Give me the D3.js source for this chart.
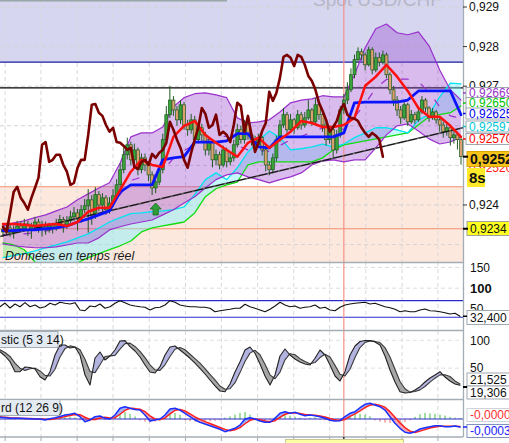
<!DOCTYPE html>
<html><head><meta charset="utf-8">
<script src="https://cdn.jsdelivr.net/npm/d3@7"></script>
<style>
html,body{margin:0;padding:0;background:#fff;overflow:hidden;}
svg{display:block;font-family:"Liberation Sans",Arial,sans-serif;}
</style></head><body>
<svg id="c" width="509" height="443"></svg>
<script>
// ================= DATA =================
// Prices are in pips above 0.9200  (price = 0.92 + v/10000)
const firstOpen = 33.8;
const closes = [33.2,34.2,33.0,33.7,34.7,34.0,35.2,33.5,34.5,35.7,34.2,35.0,33.7,34.7,
34.0,35.2,36.3,34.7,36.0,37.0,38.0,36.5,38.8,39.8,41.3,37.5,42.6,40.0,41.8,38.8,40.5,42.3,
45.1,48.9,52.7,55.2,51.4,53.9,48.9,51.9,50.1,47.6,44.3,45.8,48.9,56.5,62.8,66.5,
64.0,61.5,65.3,60.2,59.0,61.5,56.5,59.5,57.7,53.9,55.9,51.4,52.7,50.1,53.9,50.9,51.9,
55.2,59.0,56.5,60.2,57.7,56.5,55.2,57.0,53.9,50.1,48.9,51.9,56.5,60.2,62.8,59.0,
61.5,59.5,62.8,60.2,62.0,64.0,61.0,65.3,62.8,60.2,56.5,59.0,53.9,57.7,64.0,66.5,69.1,
72.9,76.7,78.7,77.9,75.4,79.2,74.1,77.2,76.1,77.9,72.9,69.1,66.5,64.0,62.0,65.3,61.0,
62.8,61.5,63.5,66.5,64.5,62.0,63.5,61.5,60.2,58.5,59.5,57.0,57.7,56.5,52.2];
const highs = [35.0,35.5,35.0,34.8,36.0,35.8,36.5,36.0,35.5,37.0,36.5,36.0,35.8,35.5,35.5,36.5,37.5,37.0,37.2,38.5,
39.5,39.0,40.0,41.5,44.0,42.5,44.5,43.5,43.0,42.5,42.0,44.0,46.5,50.5,54.5,57.0,56.0,55.5,54.5,53.0,
53.0,51.0,48.5,47.5,50.0,58.0,65.0,70.0,67.5,65.0,66.5,66.0,61.5,63.0,62.5,61.0,60.5,58.5,57.0,56.5,
54.0,53.5,55.0,54.5,53.5,56.5,60.5,60.0,61.5,61.0,58.5,57.5,58.0,57.5,54.5,51.0,53.0,57.5,61.5,64.5,
63.5,63.0,62.0,64.0,63.5,63.5,66.5,64.5,67.0,66.0,63.5,61.0,60.0,59.5,59.0,65.0,68.0,71.0,74.5,78.0,
79.8,79.5,78.5,80.0,79.8,78.5,78.5,79.0,78.5,73.5,70.0,67.5,65.0,66.0,65.8,64.0,63.5,64.5,67.5,67.0,
65.0,64.5,64.0,62.0,61.0,60.5,60.0,58.8,58.5,57.0];
const lows = [32.0,32.5,32.0,31.5,33.0,33.2,33.5,32.2,31.5,34.0,33.0,32.0,32.5,33.0,32.8,33.5,34.5,33.0,34.0,35.5,
36.0,33.5,35.5,38.0,33.0,35.0,36.5,38.5,38.0,37.5,37.8,39.5,41.5,44.0,48.0,51.5,50.0,50.5,47.5,48.0,
48.5,46.0,42.5,43.0,45.0,48.0,55.5,62.0,62.5,60.0,60.5,59.0,57.5,58.0,55.0,55.5,56.0,52.5,52.5,49.5,
50.0,49.0,49.5,49.5,50.0,51.0,54.5,55.5,55.5,56.5,55.0,54.0,54.5,52.5,48.5,47.5,48.0,51.0,56.0,59.5,
58.0,58.5,58.0,59.0,59.0,59.5,61.5,60.0,60.5,61.5,58.5,55.0,55.5,52.0,53.0,57.0,63.0,65.5,68.5,72.0,
76.0,76.5,74.0,75.0,73.0,73.5,75.0,75.5,72.0,68.0,65.0,62.5,60.5,61.5,60.0,60.5,60.5,61.0,63.0,63.5,
61.0,61.5,60.5,58.5,57.0,57.5,55.0,55.5,54.0,50.2];

// Indicator lines, one value every 3 bars
const lineStep = 3;
const tenkan = [35.2,35.2,35.0,34.7,35.0,35.2,34.7,35.7,38.3,39.3,39.3,43.8,48.4,51.4,50.1,49.6,57.2,60.0,61.2,57.7,
55.7,53.9,52.2,55.7,57.0,54.4,56.5,58.5,61.2,60.7,59.7,59.7,60.2,62.0,70.1,72.4,75.4,72.4,68.8,64.5,62.3,62.3,60.0,57.2];
const kijun = [33.5,33.5,33.7,33.7,34.0,34.2,34.7,35.7,36.5,37.5,38.5,43.3,45.1,45.1,45.1,51.4,51.9,52.2,55.9,55.9,
55.9,56.2,58.0,58.0,54.7,54.4,57.2,57.2,57.2,57.2,57.2,57.2,58.2,65.8,66.0,66.0,66.0,66.0,66.5,68.8,68.8,68.8,68.8,62.8];
const spanA = [26.7,27.2,27.7,28.4,29.2,29.9,30.7,31.7,32.7,34.2,35.7,36.8,37.8,38.0,38.3,38.5,38.8,39.5,42.6,46.4,
48.1,46.4,49.4,53.4,56.2,58.7,57.0,53.9,54.2,54.7,55.4,54.7,55.4,57.0,58.2,59.5,59.5,59.0,58.2,61.5,62.8,67.3,70.8,70.6];
const spanB = [30.4,29.9,28.7,25.6,24.6,24.6,24.9,25.4,26.7,27.7,28.7,29.7,30.9,33.2,34.2,34.7,35.2,35.7,38.0,42.1,
44.1,45.1,45.8,50.1,50.9,50.9,50.9,50.9,50.9,50.9,51.9,53.9,55.2,55.7,56.2,56.7,57.2,57.7,58.2,60.2,62.3,62.8,63.3,65.0];
const bbUpper = [34.7,35.5,36.0,36.8,37.5,38.5,39.5,41.3,42.8,44.3,45.6,50.6,57.2,58.2,58.2,59.7,64.8,67.1,68.1,68.3,
67.8,67.1,62.0,60.7,61.0,61.5,63.5,65.8,66.5,66.8,67.6,67.3,67.3,72.9,79.7,84.5,85.7,83.5,83.0,83.7,80.2,74.1,69.1,66.5];
const bbLower = [30.2,29.7,29.4,29.2,29.2,29.4,29.9,30.4,30.4,31.7,33.7,34.5,35.2,35.7,36.2,37.5,38.8,40.5,42.1,44.3,
46.4,47.6,48.1,47.1,46.4,45.6,46.4,47.1,48.1,50.1,51.1,51.4,50.9,51.4,51.4,54.4,57.7,60.0,60.5,58.7,56.7,55.4,55.9,57.2];
const bbMiddle = [32.5,32.6,32.7,33.0,33.4,34.0,34.7,35.9,36.6,38.0,39.7,42.6,46.2,47.0,47.2,48.6,51.8,53.8,55.1,56.3,
57.1,57.4,55.0,53.9,53.7,53.6,55.0,56.5,57.3,58.5,59.4,59.4,59.1,62.2,65.6,69.5,71.7,71.8,71.8,71.2,68.5,64.8,62.5,61.9];
// Lagging line, one value per bar
const chikou = [34.5,33.2,38.0,43.3,44.6,41.8,40.5,38.8,41.8,44.3,46.9,55.2,55.9,50.9,51.4,52.7,52.7,50.1,48.4,45.1,
45.6,49.4,51.4,51.4,57.7,65.3,65.5,63.3,62.5,60.2,58.5,59.5,55.9,55.7,54.9,53.9,54.4,49.6,49.1,50.9,
51.4,50.1,52.9,51.9,53.2,53.9,55.7,61.0,59.0,56.5,54.4,51.4,49.4,53.2,56.5,59.5,64.5,63.0,59.5,60.2,
62.8,57.7,58.5,57.7,55.9,60.2,65.8,65.0,58.5,62.5,57.7,53.4,55.9,58.7,60.7,68.6,66.3,68.3,72.1,77.4,
77.9,77.2,75.1,77.9,77.4,75.4,72.6,71.3,69.1,65.8,63.8,61.5,58.5,59.7,61.2,64.0,65.5,62.8,62.0,61.8,
61.2,59.5,58.2,57.2,58.2,57.5,56.5,52.2];
const trendLine = [[-1, 32.0], [130, 59.6]];          // [bar, value]
const upperZoneLevel = 76.1;      // 0.92761
const resistanceLevel = 69.6;     // 0.92696
const lowerZoneLevel = 44.6;      // 0.92446
const supportLevel = 34.0;        // 0.9234
const priceGrid = [90, 80, 70, 60, 50, 40, 30];
const timeGrid = [0.6, 10.7, 20.9, 31.0, 41.2, 51.4, 61.5, 71.7, 81.9, 92.0, 102.2, 112.4, 122.5];
const cursorBar = 96;
const buySignals = [[43, 40.5]];
const priceTicks = [90, 80, 70, 40];

// Oscillators, one value every 5 px step (93 samples)
const rsi = [55.4,64.3,52.3,61.9,55.4,65.1,55.4,59.5,52.3,55.4,63.6,59.5,66.0,63.6,61.9,65.1,47.5,45.8,57.1,55.4,
61.9,51.6,55.4,63.6,69.9,65.1,59.5,57.1,55.4,54.0,47.5,53.0,54.0,59.5,69.9,66.0,59.5,57.1,55.4,55.4,
54.0,54.0,51.6,43.4,45.8,47.5,49.1,51.6,51.6,61.2,55.4,51.6,47.5,43.4,49.1,57.1,66.0,59.5,55.4,57.1,
51.6,54.0,55.4,59.5,51.6,54.0,47.5,45.8,54.0,59.5,61.9,63.6,65.1,66.0,61.9,63.6,59.5,55.4,53.0,49.1,
43.4,45.8,43.4,43.4,47.5,49.9,45.8,45.1,43.4,41.0,37.8,39.5,32.4];
const rsiBands = [70, 30];
const rsiTicks = [150, 100, 50];
const stochK = [79.5,71.8,61.6,43.6,43.6,52.1,51.2,48.5,34.6,28.7,43.6,73.6,91.6,91.6,86.2,88.0,73.6,37.7,19.7,68.2,
79.0,64.6,71.8,82.6,98.7,99.5,88.5,80.8,70.0,55.7,43.1,41.3,52.6,73.6,88.0,89.8,82.6,75.4,67.7,59.2,
49.7,39.5,28.7,18.0,9.0,7.7,21.5,43.1,61.6,82.6,88.0,76.7,57.5,35.9,19.7,37.7,71.8,84.4,73.6,66.4,
61.0,57.5,55.7,67.7,82.6,73.6,55.7,35.9,26.9,43.6,73.6,89.8,97.8,99.5,99.6,96.9,91.6,71.8,46.7,25.1,
7.7,5.4,6.3,10.8,16.7,25.1,32.3,37.7,43.6,34.1,26.9,21.5,19.3];
const stochD = [83,78,71,59,50,46,49,50,45,37,36,48,70,85,90,88,83,66,44,42,
56,71,72,73,84,94,95,89,80,69,56,47,46,56,71,84,87,83,75,67,
59,49,39,29,18,12,13,24,42,62,77,82,74,57,38,31,43,65,76,74,
67,62,58,60,69,75,70,55,39,36,48,69,87,96,99,98,96,87,70,48,
26,13,7,8,11,17,25,32,38,38,35,27,21.5];
const stochTicks = [100, 50];
// MACD in units of 0.00001
const macd = [3.9,3,2,1.6,1.6,1,0.5,0,0,-2.3,0.5,3.0,6,9.2,11,13.2,5.3,-6.2,-2.3,5.3,
6.9,1.6,0,9.2,24.7,28.4,24.7,22,20.8,9.2,-4.6,-2.3,0,9.2,23.1,24.7,20.8,13.2,5.3,-2.3,
-7.6,-11.5,-15.5,-19.5,-23.8,-29.3,-25.4,-21.5,-13.9,0,3.0,0,-4.6,-7.6,-7.6,1.6,13.2,16.9,13.2,15.5,
10.9,7.6,9.2,7.6,5.3,1.6,-3.0,-4.6,-3.9,5.3,13.2,16.9,26.1,33.9,36.3,32.3,28.4,20.8,5.3,-9.9,
-21.5,-30.7,-33.0,-29.3,-23.1,-20.1,-17.8,-15.5,-15.5,-17.8,-17.8,-16.2,-18.5];
const macdSignal = [4.5,4,3,2.3,1.8,1.4,1,0.5,0.2,-0.8,-1,0.5,3,5.5,8,10.5,10,4,-1,-1,
2.5,4,2.5,3,11,20,25,24,22.5,17,7,0,-1.5,2.5,12,20,22,18.5,12,5,
-1,-6,-10.5,-15,-19.5,-24,-27,-25,-20,-11,-3,0,-1.5,-4.5,-6.5,-4,4,11,14,14.5,
13,10.5,9.5,8.5,7,4.5,1,-2,-3.5,-1,6,12,19,26.5,32,34,31.5,27,17,4,
-9,-20,-28,-31,-28,-24.5,-21,-18.5,-17,-16.5,-17,-17,-17.5];
const macdHist = [-1,-1.5,-1,-1.5,-1,-1.5,-1,-1.5,-1,-2,-1,2,3,4,5,4,-3,-6,-5,-3,
2,-2,-1,6,13,16,12,6,-3,-6,-8,-6,-3,8,13,14,10,-3,-5,-6,
-6,-5,-5,-4,-3,3,6,10,14,16,10,-3,-5,-5,-4,5,9,11,8,5,
3,-2,3,4,-2,-3,-4,-5,-3,5,8,11,12,10,6,-3,-6,-8,-9,-9,
-8,-7,-3,5,11,14,13,12,10,8,5,3,2];

// value tags on the right axis
const lineTags = [["0,92669","#9933cc"],["0,92650","#00c400"],["0,92625","#0000ee"],["0,92597","#00c8d8"],["0,92570","#ff0000"]];
const lastPriceText = "0,9252";
const hiddenTagText = "0,92520";
const timerText = "8s";
const supportText = "0,9234";
const rsiTagText = "32,400";
const stochTags = ["21,525", "19,306"];
const macdTags = [["-0,00002","#ff3030"],["-0,0003","#2020ff"]];
const titleText = "Spot USD/CHF";
const realtimeText = "Données en temps réel";
const stochLabel = "stic (5 3 14)";
const macdLabel = "rd (12 26 9)";

// ================= DRAW =================
const PR = 463;
const svg = d3.select('#c');
const defs = svg.append('defs');
function clipRect(id,x,y,w,h){defs.append('clipPath').attr('id',id).append('rect')
  .attr('x',x).attr('y',y).attr('width',w).attr('height',h);}
clipRect('cMain',0,0,PR,262);
clipRect('cRsi',0,263,PR,67);
clipRect('cSto',0,331,PR,68);
clipRect('cMacd',0,400,PR,37);

const x = d3.scaleLinear().domain([0,129]).range([3,461]);
const xl = k => x(k*lineStep);
const y = d3.scaleLinear().domain([25.6, 91.77]).range([262,0]);
const xo = d3.scaleLinear().domain([0,92]).range([0,460]);
const yR = d3.scaleLinear().domain([0,150]).range([329.7,267.45]);
const yS = d3.scaleLinear().domain([0,100]).range([396,340.3]);
const yM = d3.scaleLinear().domain([-40,40]).range([436.3,401.7]);

function fillBetween(g, id, xs, a, b, ys, colA, colB, top, bottom){
  const pts = a.map((v,i)=>({x:xs(i), ya:ys(v), yb:ys(b[i])}));
  const between = d3.area().x(d=>d.x).y0(d=>d.ya).y1(d=>d.yb);
  defs.append('clipPath').attr('id',id+'A').append('path')
    .attr('d', d3.area().x(d=>d.x).y0(top).y1(d=>d.yb)(pts));
  defs.append('clipPath').attr('id',id+'B').append('path')
    .attr('d', d3.area().x(d=>d.x).y0(d=>d.yb).y1(bottom)(pts));
  const inner = g.append('g');
  inner.append('path').attr('d',between(pts)).attr('fill',colA).attr('clip-path',`url(#${id}A)`);
  inner.append('path').attr('d',between(pts)).attr('fill',colB).attr('clip-path',`url(#${id}B)`);
}
function line(g, xs, data, ys, color, w, extra){
  const p = g.append('path').attr('d', d3.line().x((d,i)=>xs(i)).y(d=>ys(d))(data))
    .attr('fill','none').attr('stroke',color).attr('stroke-width',w)
    .attr('stroke-linejoin','round').attr('stroke-linecap','round');
  if(extra) extra(p);
  return p;
}
function vGrid(g, y0, y1){
  g.selectAll(null).data(timeGrid).join('line')
    .attr('x1',d=>x(d)).attr('x2',d=>x(d)).attr('y1',y0).attr('y2',y1)
    .attr('stroke','#d9d9d9').attr('stroke-dasharray','4,3');
}

// ---------- main panel ----------
const gM = svg.append('g').attr('clip-path','url(#cMain)');
gM.append('rect').attr('x',0).attr('width',PR).attr('y',0).attr('height',y(upperZoneLevel)).attr('fill','#d6d6f1');
gM.append('rect').attr('x',0).attr('width',PR).attr('y',y(lowerZoneLevel)).attr('height',262-y(lowerZoneLevel)).attr('fill','#fde8de');
vGrid(gM, 0, 262);
gM.selectAll(null).data(priceGrid).join('line')
  .attr('x1',0).attr('x2',PR).attr('y1',d=>y(d)).attr('y2',d=>y(d))
  .attr('stroke','#d4d4d4').attr('stroke-dasharray','4,3');
[[upperZoneLevel,'#1a1aa0',1.2],[resistanceLevel,'#000',1.2],[lowerZoneLevel,'#f2906c',1.2],[supportLevel,'#f2906c',1.2]]
  .forEach(([v,c,w])=>gM.append('line').attr('x1',0).attr('x2',PR).attr('y1',y(v)).attr('y2',y(v)).attr('stroke',c).attr('stroke-width',w));
gM.append('line').attr('x1',0).attr('x2',227).attr('y1',0.8).attr('y2',0.8).attr('stroke','#98a6a6').attr('stroke-width',1.6);
gM.append('text').attr('x',313).attr('y',6).attr('font-size',19).attr('fill','#b6b6c8').text(titleText);

// cloud
fillBetween(gM,'cloud',xl,spanA,spanB,y,'rgba(120,240,255,0.42)','rgba(140,235,140,0.55)',0,262);
// bollinger fill
gM.append('path').attr('d', d3.area().x((d,i)=>xl(i)).y0((d,i)=>y(bbLower[i])).y1(d=>y(d))(bbUpper))
  .attr('fill','rgba(150,70,205,0.36)');
gM.append('line').attr('x1',x(cursorBar)).attr('x2',x(cursorBar)).attr('y1',0).attr('y2',262).attr('stroke','#f4928a').attr('stroke-width',1.2);
line(gM, xl, spanB, y, '#10dd10', 1.3);
line(gM, xl, spanA, y, '#00e4f0', 1.3);
line(gM, xl, bbUpper, y, '#9a30cc', 1.2);
line(gM, xl, bbLower, y, '#9a30cc', 1.2);
line(gM, xl, bbMiddle, y, '#9a30cc', 1.2, p=>p.attr('stroke-dasharray','7,14'));

// candles
const opens = closes.map((c,i)=> i===0 ? firstOpen : closes[i-1]);
const gC = gM.append('g');
closes.forEach((c,i)=>{
  const o = opens[i], up = c >= o;
  const cx = x(i);
  gC.append('line').attr('x1',cx).attr('x2',cx).attr('y1',y(highs[i])).attr('y2',y(lows[i]))
    .attr('stroke','#1f5a1f').attr('stroke-width',1);
  const top = y(Math.max(o,c)), bot = y(Math.min(o,c));
  gC.append('rect').attr('x',cx-1.5).attr('width',3).attr('y',top).attr('height',Math.max(1,bot-top))
    .attr('fill', up ? '#3aa43a' : '#dca06e').attr('stroke','#1f5a1f').attr('stroke-width',0.7);
});
gM.append('line').attr('x1',x(trendLine[0][0])).attr('y1',y(trendLine[0][1]))
  .attr('x2',x(trendLine[1][0])).attr('y2',y(trendLine[1][1])).attr('stroke','#1a1a1a').attr('stroke-width',1.3);
gM.append('line').attr('x1',x(trendLine[0][0])).attr('y1',y(trendLine[0][1]))
  .attr('x2',x(trendLine[1][0])).attr('y2',y(trendLine[1][1])).attr('stroke','#bbb').attr('stroke-width',0.6).attr('stroke-dasharray','2,9');
line(gM, xl, kijun, y, '#0a14ff', 2.8);
line(gM, xl, tenkan, y, '#ff1010', 2.5);
line(gM, x, chikou, y, '#7a0000', 2.6);
buySignals.forEach(([b,v])=>{
  const cx = x(b), ty = y(v);
  gM.append('path').attr('d',`M${cx},${ty} L${cx+5.5},${ty+6} L${cx+2.6},${ty+6} L${cx+2.6},${ty+12} L${cx-2.6},${ty+12} L${cx-2.6},${ty+6} L${cx-5.5},${ty+6} Z`)
    .attr('fill','#2e9e38').attr('stroke','#176a20').attr('stroke-width',0.8);
});
gM.append('text').attr('x',5).attr('y',260).attr('font-size',12.5).attr('font-style','italic').attr('fill','#1a1a1a').text(realtimeText);

// ---------- RSI panel ----------
const gR = svg.append('g').attr('clip-path','url(#cRsi)');
vGrid(gR, 262, 331);
gR.selectAll(null).data([150,100]).join('line').attr('x1',0).attr('x2',PR).attr('y1',d=>yR(d)).attr('y2',d=>yR(d))
  .attr('stroke','#dcdcdc').attr('stroke-dasharray','4,3');
rsiBands.forEach(v=>gR.append('line').attr('x1',0).attr('x2',PR).attr('y1',yR(v)).attr('y2',yR(v)).attr('stroke','#2a2acc').attr('stroke-width',1.2));
gR.append('line').attr('x1',x(cursorBar)).attr('x2',x(cursorBar)).attr('y1',262).attr('y2',331).attr('stroke','#f4928a').attr('stroke-width',1.2);
line(gR, xo, rsi, yR, '#111', 1.1);

// ---------- Stochastic panel ----------
const gS = svg.append('g').attr('clip-path','url(#cSto)');
vGrid(gS, 331, 399);
gS.selectAll(null).data(stochTicks).join('line').attr('x1',0).attr('x2',PR).attr('y1',d=>yS(d)).attr('y2',d=>yS(d))
  .attr('stroke','#e0e0e0').attr('stroke-dasharray','4,3');
fillBetween(gS,'sto',xo,stochK,stochD,yS,'#b3b3e0','#a6a6a6',331,399);
gS.append('line').attr('x1',x(cursorBar)).attr('x2',x(cursorBar)).attr('y1',331).attr('y2',399).attr('stroke','#f4928a').attr('stroke-width',1.2);
line(gS, xo, stochD, yS, '#3a3a3a', 1.1);
line(gS, xo, stochK, yS, '#222', 1.1);

// ---------- MACD panel ----------
const gD = svg.append('g').attr('clip-path','url(#cMacd)');
vGrid(gD, 399, 437);
gD.selectAll(null).data(macdHist).join('line')
  .attr('x1',(d,i)=>xo(i)).attr('x2',(d,i)=>xo(i)).attr('y1',yM(0)).attr('y2',d=>yM(d))
  .attr('stroke',d=>d>=0?'#40c040':'#f06060').attr('stroke-width',1);
fillBetween(gD,'mac',xo,macd,macdSignal,yM,'#9fb2f6','#f6a8b0',399,437);
gD.append('line').attr('x1',0).attr('x2',PR).attr('y1',yM(0)).attr('y2',yM(0)).attr('stroke','#2a2ac8').attr('stroke-width',1.2);
gD.append('line').attr('x1',x(cursorBar)).attr('x2',x(cursorBar)).attr('y1',399).attr('y2',437).attr('stroke','#f4928a').attr('stroke-width',1.2);
line(gD, xo, macdSignal, yM, '#ff2020', 1.5);
line(gD, xo, macd, yM, '#1a30ff', 1.5);

// ---------- frames ----------
const fr = svg.append('g').attr('stroke','#a4acb4').attr('stroke-width',1.3);
[262.5, 330.5, 399.5, 437].forEach(v=>fr.append('line').attr('x1',0).attr('x2',PR).attr('y1',v).attr('y2',v));
fr.append('line').attr('x1',PR+0.5).attr('x2',PR+0.5).attr('y1',0).attr('y2',437);
svg.selectAll(null).data(timeGrid).join('line').attr('x1',d=>x(d)).attr('x2',d=>x(d)).attr('y1',437).attr('y2',441).attr('stroke','#a4acb4');
svg.append('line').attr('x1',x(cursorBar)).attr('x2',x(cursorBar)).attr('y1',437).attr('y2',443).attr('stroke','#000').attr('stroke-width',1.2);
svg.append('rect').attr('x',285.5).attr('y',439.5).attr('width',118).attr('height',8).attr('fill','#ffffa6').attr('stroke','#c8c890');

function labelBox(t, yTop, w){
  svg.append('rect').attr('x',-1).attr('y',yTop).attr('width',w).attr('height',16).attr('fill','#e3eaf1').attr('stroke','#a4acb4');
  svg.append('text').attr('x',1).attr('y',yTop+12).attr('font-size',12).attr('fill','#111').text(t);
}
labelBox(stochLabel, 331.5, 59);
labelBox(macdLabel, 399.5, 61);

// ---------- right axis ----------
const ax = svg.append('g').attr('font-size',12).attr('fill','#111');
const fmt = v => (0.92 + v/10000).toFixed(3).replace('.',',');
priceTicks.forEach(v=>{
  ax.append('line').attr('x1',PR).attr('x2',PR+4).attr('y1',y(v)).attr('y2',y(v)).attr('stroke','#333');
  ax.append('text').attr('x',469).attr('y',y(v)+4.3).text(fmt(v));
});
function tag(yc, text, opt){
  const o = Object.assign({bg:'#fff', stroke:'#a0a8b0', color:'#111', size:12, weight:'normal', x:466, w:46, h:12}, opt);
  ax.append('rect').attr('x',o.x).attr('y',yc-o.h/2).attr('width',o.w).attr('height',o.h).attr('fill',o.bg).attr('stroke',o.stroke);
  ax.append('text').attr('x',o.x+3).attr('y',yc+o.size*0.36).attr('font-size',o.size).attr('font-weight',o.weight).attr('fill',o.color).text(text);
}
const tagY = [93, 103, 113.5, 126.5, 139];
lineTags.forEach(([t,c],i)=>{
  ax.append('line').attr('x1',PR).attr('x2',PR+4).attr('y1',tagY[i]).attr('y2',tagY[i]).attr('stroke',c).attr('stroke-width',1.5);
  tag(tagY[i], t, {color:c, h:11});
});
ax.append('text').attr('x',469).attr('y',172).attr('fill','#ff2020').text(hiddenTagText);
tag(159, lastPriceText, {bg:'#f7c51a', stroke:'#d8a800', size:14, weight:'bold', h:15, x:467});
ax.append('line').attr('x1',PR).attr('x2',PR+5).attr('y1',y(closes[closes.length-1])).attr('y2',y(closes[closes.length-1])).attr('stroke','#000').attr('stroke-width',2);
ax.append('rect').attr('x',467).attr('y',168).attr('width',18).attr('height',19).attr('fill','#ffea2a');
ax.append('text').attr('x',469).attr('y',183).attr('font-size',15).attr('font-weight','bold').text(timerText);
tag(228.5, supportText, {bg:'#ffff20', stroke:'#a0a0a0', h:14, x:467});
ax.append('line').attr('x1',PR).attr('x2',PR+5).attr('y1',y(supportLevel)).attr('y2',y(supportLevel)).attr('stroke','#000').attr('stroke-width',2);

rsiTicks.forEach(v=>{
  ax.append('text').attr('x',470).attr('y',yR(v)+4.3).attr('font-weight', v===100?'bold':'normal').attr('font-size', v===100?13:12).text(v);
});
tag(317.5, rsiTagText, {h:14, x:467});
ax.append('line').attr('x1',PR).attr('x2',PR+4).attr('y1',yR(rsi[rsi.length-1])).attr('y2',yR(rsi[rsi.length-1])).attr('stroke','#000').attr('stroke-width',1.5);
stochTicks.forEach(v=>ax.append('text').attr('x',470).attr('y',yS(v)+4.3).text(v));
tag(379.5, stochTags[0], {h:13, x:467});
tag(392.5, stochTags[1], {h:13, x:467});
ax.append('line').attr('x1',PR).attr('x2',PR+4).attr('y1',387).attr('y2',387).attr('stroke','#000').attr('stroke-width',2);
tag(415, macdTags[0][0], {color:macdTags[0][1], h:13, x:467, stroke:'#d0d4d8'});
tag(431, macdTags[1][0], {color:macdTags[1][1], h:13, x:467, stroke:'#8090c0'});
ax.append('line').attr('x1',PR).attr('x2',PR+4).attr('y1',427).attr('y2',427).attr('stroke','#2020ff').attr('stroke-width',1.5);
</script>
</body></html>
